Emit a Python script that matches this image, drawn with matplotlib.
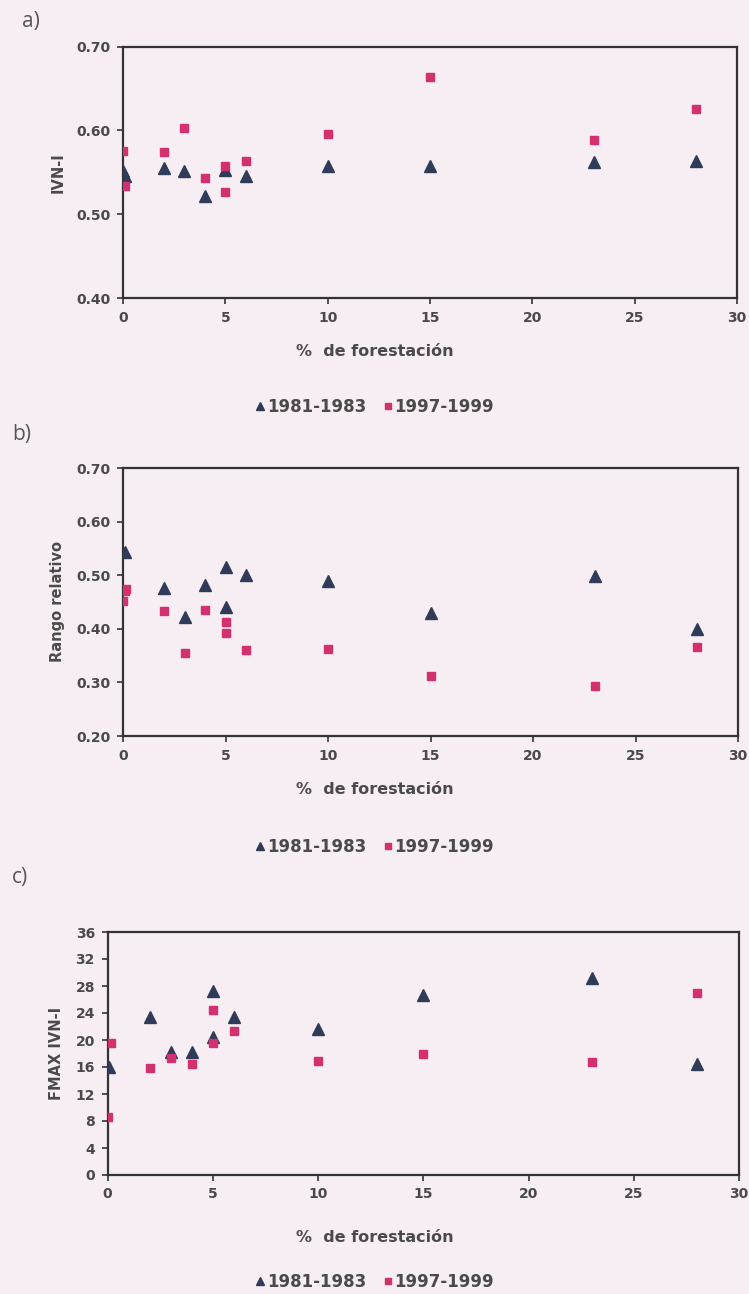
import matplotlib
matplotlib.use("Agg")
import matplotlib.pyplot as plt
from matplotlib.lines import Line2D

plt.rcParams["font.family"] = ["Liberation Sans Narrow", "DejaVu Sans"]

# panel a) IVN-I
a_x_old = [0, 0.1, 2, 3, 4, 5, 6, 10, 15, 23, 28]
a_y_old = [0.552, 0.545, 0.555, 0.552, 0.522, 0.553, 0.546, 0.557, 0.558, 0.562, 0.564]
a_x_new = [0, 0.1, 2, 3, 4, 5, 5, 6, 10, 15, 23, 28]
a_y_new = [0.575, 0.534, 0.574, 0.603, 0.543, 0.557, 0.526, 0.564, 0.596, 0.664, 0.588, 0.626]

# panel b) Rango relativo
b_x_old = [0.1, 2, 3, 4, 5, 5, 6, 10, 15, 23, 28]
b_y_old = [0.543, 0.476, 0.422, 0.481, 0.516, 0.441, 0.500, 0.489, 0.429, 0.499, 0.400]
b_x_new = [0.15, 0.1, 0, 2, 3, 4, 5, 5, 6, 10, 15, 23, 28]
b_y_new = [0.475, 0.471, 0.452, 0.434, 0.354, 0.436, 0.412, 0.393, 0.360, 0.362, 0.312, 0.293, 0.366]

# panel c) FMAX IVN-I
c_x_old = [0.05, 2, 3, 4, 5, 5, 6, 10, 15, 23, 28]
c_y_old = [16.0, 23.4, 18.2, 18.2, 27.2, 20.5, 23.4, 21.7, 26.6, 29.2, 16.5]
c_x_new = [0.15, 0, 2, 3, 4, 5, 5, 6, 10, 15, 23, 28]
c_y_new = [19.5, 8.6, 15.8, 17.4, 16.5, 24.5, 19.5, 21.4, 16.9, 18.0, 16.7, 26.9]

labels = ["1981-1983", "1997-1999"]
xticks = [0, 5, 10, 15, 20, 25, 30]

W, H = 749, 1294
bg = "#f6eef2"
navy = "#2f3b58"
pink = "#d3306f"
txt = "#4a4a4a"

fig = plt.figure(figsize=(W / 100, H / 100), dpi=100, facecolor=bg)


def box(l, r, t, b):
    return [l / W, 1 - b / H, (r - l) / W, (b - t) / H]


panels = [
    (box(123, 737, 46.5, 298), a_x_old, a_y_old, a_x_new, a_y_new,
     (0.40, 0.70), [0.40, 0.50, 0.60, 0.70], "{:.2f}", "IVN-I", "a)", 22, 352, 407),
    (box(123, 738, 468, 736), b_x_old, b_y_old, b_x_new, b_y_new,
     (0.20, 0.70), [0.20, 0.30, 0.40, 0.50, 0.60, 0.70], "{:.2f}", "Rango relativo", "b)", 435, 790, 847),
    (box(107.5, 739, 932, 1175), c_x_old, c_y_old, c_x_new, c_y_new,
     (0, 36), list(range(0, 37, 4)), "{:d}", "FMAX IVN-I", "c)", 877, 1238, 1282),
]

for rect, xo, yo, xn, yn, ylim, yticks, fmt, ylab, tag, ytag, yxl, yleg in panels:
    ax = fig.add_axes(rect, facecolor=bg)
    h1, = ax.plot(xo, yo, linestyle="none", marker="^", markersize=8,
                  color=navy, label=labels[0], zorder=3)
    h2, = ax.plot(xn, yn, linestyle="none", marker="s", markersize=6,
                  color=pink, label=labels[1], zorder=4)
    ax.set_xlim(0, 30)
    ax.set_ylim(*ylim)
    ax.set_xticks(xticks)
    ax.set_yticks(yticks)
    ax.set_yticklabels([fmt.format(v) for v in yticks])
    for s in ax.spines.values():
        s.set_color("#333333")
        s.set_linewidth(1.6)
    ax.tick_params(direction="out", length=4, width=1.2, color="#333333",
                   labelsize=10, labelcolor=txt, pad=5)
    for lab in ax.get_xticklabels() + ax.get_yticklabels():
        lab.set_fontweight("bold")
    ax.set_ylabel(ylab, fontsize=10.5, fontweight="bold", color=txt, labelpad=8)

    fig.text(0.5, 1 - yxl / H, "%  de forestación", ha="center", va="center",
             fontsize=11.5, fontweight="bold", color=txt)
    fig.text(22 / W if tag == "a)" else 12 / W, 1 - ytag / H, tag, ha="left", va="center",
             fontsize=15, color="#555555", family=["Open Sans", "DejaVu Sans"])
    leg = fig.legend(handles=[h1, h2], loc="center", ncol=2,
                     bbox_to_anchor=(0.5, 1 - yleg / H), frameon=False,
                     handlelength=0.6, handletextpad=0.1, columnspacing=1.0,
                     markerscale=0.7, prop={"size": 12, "weight": "bold"})
    for t in leg.get_texts():
        t.set_color(txt)

fig.savefig("out.png", dpi=100, facecolor=bg)
